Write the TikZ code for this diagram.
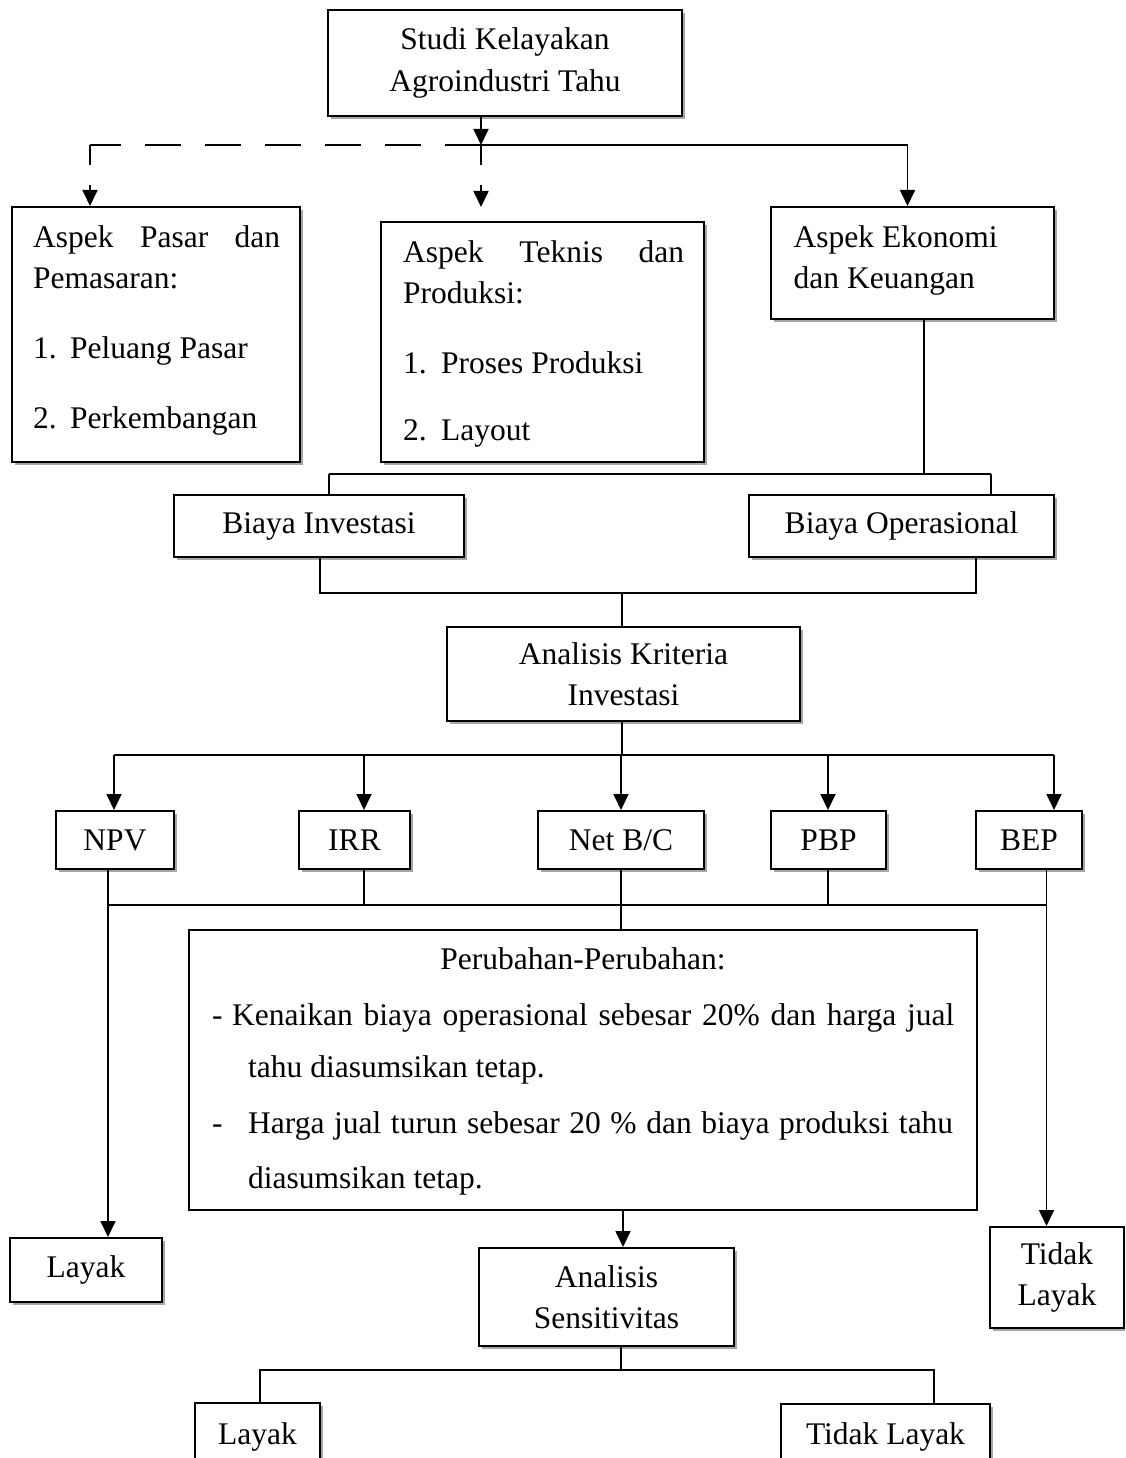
\documentclass[tikz,border=0pt]{standalone}
\usepackage{fontspec}
\setmainfont{Liberation Serif}
\usetikzlibrary{arrows.meta,shadows}
\newcommand\dgfont{\fontsize{31.5pt}{41.5pt}\selectfont}
\begin{document}
\begin{tikzpicture}[x=1pt,y=-1pt, font=\dgfont,
  box/.style={draw, line width=2pt, fill=white, inner sep=0pt, align=center,
    drop shadow={shadow xshift=3pt, shadow yshift=-3pt, opacity=0.35, fill=black}},
  plainbox/.style={draw, line width=2pt, fill=white, inner sep=0pt},
  txt/.style={inner sep=0pt, anchor=base west},
  conn/.style={line width=1.7pt},
  tip/.style={-{Triangle[length=16pt,width=15pt]}},
  arr/.style={conn, tip},
  hdash/.style={conn, dash pattern=on 36pt off 24pt},
  vdash/.style={conn, tip, dash pattern=on 20pt off 20pt}
]
\useasboundingbox (0,0) rectangle (1125,1458);
\clip (0,0) rectangle (1125,1458);

% ---------- boxes ----------
\node[box, minimum width=354pt, minimum height=106pt] (top) at (505,63) {Studi Kelayakan\\Agroindustri Tahu};

\node[box, minimum width=288pt, minimum height=255pt] (pasar) at (156,334.5) {};
\node[txt] (pasar1) at (33,247) {\makebox[247pt][s]{Aspek Pasar dan}};
\node[txt] (pasar2) at (33,288) {Pemasaran:};
\node[txt] (pasar3) at (33,358) {\makebox[37pt][l]{1.}Peluang Pasar};
\node[txt] (pasar4) at (33,428) {\makebox[37pt][l]{2.}Perkembangan};

\node[box, minimum width=323pt, minimum height=240pt] (teknis) at (542.5,342) {};
\node[txt] (teknis1) at (403,262) {\makebox[281pt][s]{Aspek Teknis dan}};
\node[txt] (teknis2) at (403,303) {Produksi:};
\node[txt] (teknis3) at (403,373) {\makebox[38pt][l]{1.}Proses Produksi};
\node[txt] (teknis4) at (403,440) {\makebox[38pt][l]{2.}Layout};

\node[box, minimum width=283pt, minimum height=112pt] (ekonomi) at (912.5,263) {};
\node[txt] (ekonomi1) at (793.5,247) {Aspek Ekonomi};
\node[txt] (ekonomi2) at (793.5,288) {dan Keuangan};

\node[box, minimum width=290pt, minimum height=62pt] (investasi) at (319,526) {Biaya Investasi};
\node[box, minimum width=305pt, minimum height=62pt] (operasional) at (901.5,526) {Biaya Operasional};

\node[box, minimum width=353pt, minimum height=94pt] (kriteria) at (623.5,674) {Analisis Kriteria\\Investasi};

\node[box, minimum width=118pt, minimum height=58pt] (npv) at (115,840) {NPV};
\node[box, minimum width=111pt, minimum height=58pt] (irr) at (354.5,840) {IRR};
\node[box, minimum width=166pt, minimum height=58pt] (netbc) at (621,840) {Net B/C};
\node[box, minimum width=115pt, minimum height=58pt] (pbp) at (828.5,840) {PBP};
\node[box, minimum width=106pt, minimum height=58pt] (bep) at (1029,840) {BEP};

\node[plainbox, minimum width=788pt, minimum height=280pt] (perubahan) at (583,1070) {};
\node[inner sep=0pt, anchor=base] (pt0) at (583,969) {Perubahan-Perubahan:};
\node[txt] (pt1) at (212,1025) {\makebox[20pt][l]{-}\makebox[722pt][s]{Kenaikan biaya operasional sebesar 20\% dan harga jual}};
\node[txt] (pt2) at (248,1077) {tahu diasumsikan tetap.};
\node[txt] (pt3) at (212,1133) {\makebox[36pt][l]{-}\makebox[705pt][s]{Harga jual turun sebesar 20 \% dan biaya produksi tahu}};
\node[txt] (pt4) at (248,1188) {diasumsikan tetap.};

\node[box, minimum width=152pt, minimum height=64pt] (layak1) at (86,1270) {Layak};
\node[box, minimum width=134pt, minimum height=101pt] (tidak1) at (1057,1277.5) {Tidak\\Layak};
\node[box, minimum width=255pt, minimum height=98pt] (sens) at (606.5,1297) {Analisis\\Sensitivitas};
\node[box, minimum width=125pt, minimum height=67pt] (layak2) at (257.5,1436.5) {Layak};
\node[box, minimum width=209pt, minimum height=66pt] (tidak2) at (885.5,1437) {Tidak Layak};

% ---------- connectors ----------
\coordinate (bus0) at (481,145);
\coordinate (busL) at (90,145);
\coordinate (busR) at (907.5,145);
\coordinate (tekTip) at (481,207);
\draw[arr] (bus0 |- top.south) -- (bus0);
\draw[hdash] (bus0) -- (busL);
\draw[conn] (bus0) -- (busR);
\draw[vdash] (busL) -- (busL |- pasar.north);
\draw[vdash] (bus0) -- (tekTip);
\draw[arr] (busR) -- (busR |- ekonomi.north);

\coordinate (e1) at (924,474);
\coordinate (bL) at (329,474);
\coordinate (bR) at (991,474);
\draw[conn] (e1 |- ekonomi.south) -- (e1);
\draw[conn] (bL) -- (bR);
\draw[conn] (bL) -- (bL |- investasi.north);
\draw[conn] (bR) -- (bR |- operasional.north);

\coordinate (cL) at (320,593);
\coordinate (cR) at (976,593);
\coordinate (cM) at (622,593);
\draw[conn] (cL |- investasi.south) -- (cL) -- (cR) -- (cR |- operasional.south);
\draw[conn] (cM) -- (cM |- kriteria.north);

\coordinate (dM) at (622,755);
\coordinate (dL) at (114,755);
\coordinate (dI) at (364,755);
\coordinate (dN) at (621,755);
\coordinate (dP) at (828,755);
\coordinate (dR) at (1054,755);
\draw[conn] (dM |- kriteria.south) -- (dM);
\draw[conn] (dL) -- (dR);
\draw[arr] (dL) -- (dL |- npv.north);
\draw[arr] (dI) -- (dI |- irr.north);
\draw[arr] (dN) -- (dN |- netbc.north);
\draw[arr] (dP) -- (dP |- pbp.north);
\draw[arr] (dR) -- (dR |- bep.north);

\coordinate (fL) at (108,905);
\coordinate (fI) at (364,905);
\coordinate (fN) at (621,905);
\coordinate (fP) at (828,905);
\coordinate (fR) at (1046.5,905);
\draw[conn] (fL) -- (fR);
\draw[arr] (fL |- npv.south) -- (fL |- layak1.north);
\draw[arr] (fR |- bep.south) -- (fR |- tidak1.north);
\draw[conn] (fI |- irr.south) -- (fI);
\draw[conn] (fP |- pbp.south) -- (fP);
\draw[conn] (fN |- netbc.south) -- (fN |- perubahan.north);

\coordinate (g) at (623,1230);
\draw[arr] (g |- perubahan.south) -- (g |- sens.north);

\coordinate (hM) at (621,1370);
\coordinate (hL) at (260,1370);
\coordinate (hR) at (934,1370);
\draw[conn] (hM |- sens.south) -- (hM);
\draw[conn] (hL |- layak2.north) -- (hL) -- (hR) -- (hR |- tidak2.north);
\end{tikzpicture}
\end{document}
